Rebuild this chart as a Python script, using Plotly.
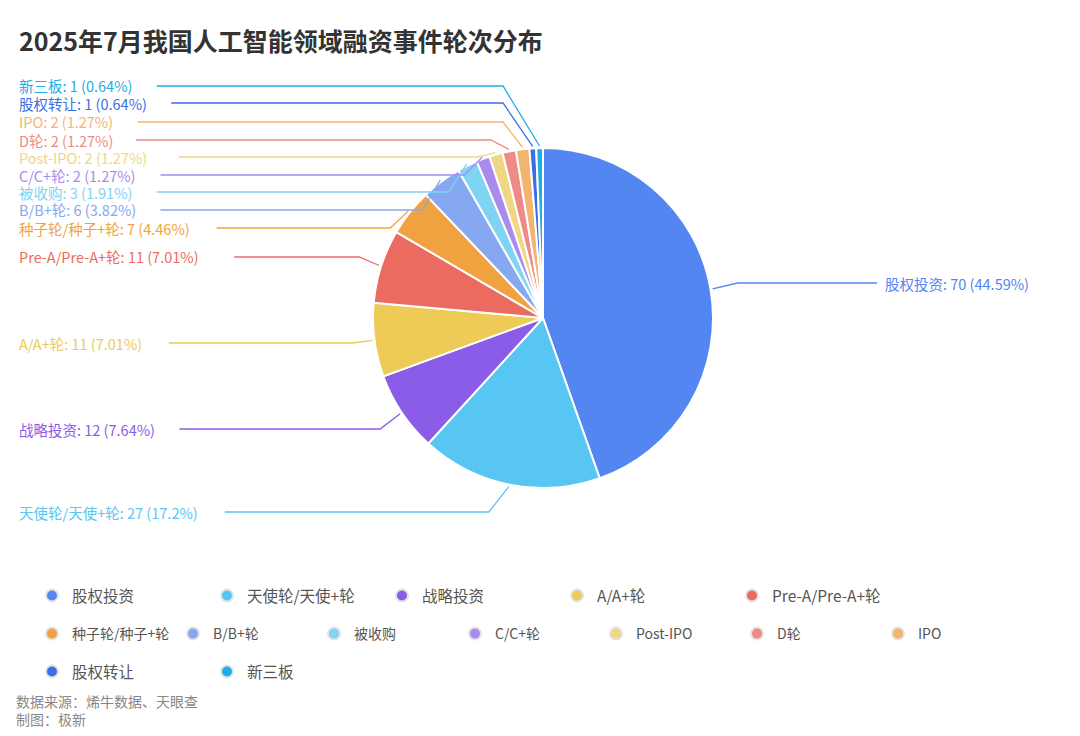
import math
import plotly.graph_objects as go

labels = ["股权投资", "天使轮/天使+轮", "战略投资", "A/A+轮", "Pre-A/Pre-A+轮", "种子轮/种子+轮",
          "B/B+轮", "被收购", "C/C+轮", "Post-IPO", "D轮", "IPO", "股权转让", "新三板"]
values = [70, 27, 12, 11, 11, 7, 6, 3, 2, 2, 2, 2, 1, 1]
pcts = ["44.59%", "17.2%", "7.64%", "7.01%", "7.01%", "4.46%", "3.82%", "1.91%", "1.27%",
        "1.27%", "1.27%", "1.27%", "0.64%", "0.64%"]
colors = ["#5386F1", "#57C6F3", "#8B5CE8", "#EDCB56", "#EC6B61", "#F0A240", "#86A8F1", "#80D4F3",
          "#A98BEE", "#F0D785", "#EE8B86", "#F2B571", "#3A6FE8", "#1BAEE8"]
# label vertical positions (pixels from top), layout only
label_y = [283, 512, 429, 343, 257, 228, 210, 192, 175, 157, 140, 122, 103, 86]
# legend row for each category
legend_row = [1, 1, 1, 1, 1, 2, 2, 2, 2, 2, 2, 2, 3, 3]

W, H = 1080, 736
OFF = 8  # page body margin
cx, cy, r = 543, 318, 170


def px(x):
    return (x - OFF) / W


def py(y):
    return 1 - (y - OFF) / H


def text_w(s):
    return sum(14.5 if ord(c) > 255 else 8.2 for c in s)


fig = go.Figure()
fig.add_trace(go.Pie(
    labels=labels, values=values, sort=False, direction="clockwise", rotation=0,
    marker=dict(colors=colors, line=dict(color="white", width=2)),
    textinfo="none", hoverinfo="label+value+percent", showlegend=False,
    domain=dict(x=[px(cx - r), px(cx + r)], y=[py(cy + r), py(cy - r)]),
))

shapes, annotations = [], []
total = sum(values)
cum = 0
for lab, v, pct, col, ly in zip(labels, values, pcts, colors, label_y):
    th = 2 * math.pi * (cum + v / 2) / total
    cum += v
    sx, sy = cx + (r + 2) * math.sin(th), cy - (r + 2) * math.cos(th)
    txt = f"{lab}: {v} ({pct})"
    if math.sin(th) > 0:
        ex = sx + 25
        tx = 883
        pts = [(sx, sy), (ex, ly), (tx - 6, ly)]
    else:
        ex = min(sx - 18, cx - 40) if ly < 240 else sx - 20
        tx = 17
        pts = [(sx, sy), (ex, ly), (tx + text_w(txt) + 6, ly)]
    annotations.append(dict(x=px(tx), y=py(ly), xref="paper", yref="paper", text=txt,
                            showarrow=False, xanchor="left", yanchor="middle",
                            font=dict(size=14.5, color=col)))
    path = "M " + " L ".join(f"{px(a)},{py(b)}" for a, b in pts)
    shapes.append(dict(type="path", path=path, xref="paper", yref="paper",
                       line=dict(color=col, width=1.3)))

for lab, col, row in zip(labels, colors, legend_row):
    fig.add_trace(go.Scatter(x=[None], y=[None], mode="markers", name=lab,
                             legend="legend" if row == 1 else f"legend{row}",
                             marker=dict(symbol="circle", size=14, color=col,
                                         line=dict(color="#E3E3E3", width=3))))

annotations += [
    dict(x=px(17), y=py(40), xref="paper", yref="paper", text="<b>2025年7月我国人工智能领域融资事件轮次分布</b>",
         showarrow=False, xanchor="left", yanchor="middle", font=dict(size=25, color="#333")),
    dict(x=px(14), y=py(701), xref="paper", yref="paper", text="数据来源：烯牛数据、天眼查",
         showarrow=False, xanchor="left", yanchor="middle", font=dict(size=14, color="#888")),
    dict(x=px(14), y=py(719), xref="paper", yref="paper", text="制图：极新",
         showarrow=False, xanchor="left", yanchor="middle", font=dict(size=14, color="#888")),
]

leg = dict(orientation="h", x=px(32), xanchor="left", yanchor="middle",
           itemsizing="constant", entrywidthmode="pixels",
           font=dict(size=15.5, color="#555"))

fig.update_layout(
    width=W, height=H, margin=dict(l=0, r=0, t=0, b=0),
    paper_bgcolor="white", plot_bgcolor="white",
    font=dict(family="Noto Sans CJK SC, Inter, sans-serif"),
    xaxis=dict(visible=False), yaxis=dict(visible=False),
    shapes=shapes, annotations=annotations,
    legend=dict(leg, y=py(596), entrywidth=130),
    legend2=dict(leg, y=py(634), entrywidth=96, font=dict(size=14, color="#555")),
    legend3=dict(leg, y=py(672), entrywidth=130),
)
fig.write_html("out.html")
